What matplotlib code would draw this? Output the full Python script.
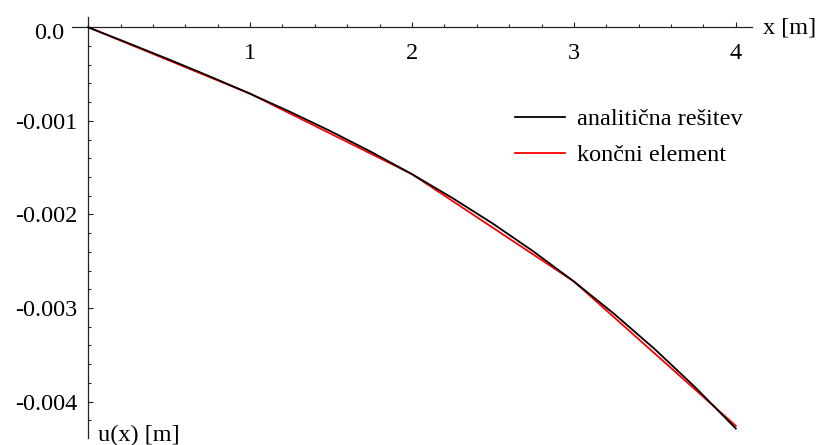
import matplotlib
matplotlib.use("Agg")
import matplotlib.pyplot as plt
from matplotlib.ticker import MultipleLocator, FixedLocator
from matplotlib.transforms import ScaledTranslation

# analytic solution
x_exact = [0.0, 0.25, 0.5, 0.75, 1.0, 1.25, 1.5, 1.75, 2.0,
           2.25, 2.5, 2.75, 3.0, 3.25, 3.5, 3.75, 4.0]
u_exact = [0.0, -0.000171, -0.000345, -0.000524, -0.000710, -0.000906,
           -0.001113, -0.001334, -0.001570, -0.001825, -0.002099,
           -0.002396, -0.002717, -0.003065, -0.003441, -0.003849, -0.004289]

# finite element nodes
x_fe = [0, 1, 2, 3, 4]
u_fe = [0.0, -0.000710, -0.001570, -0.002717, -0.004260]

y_ticks = [0.0, -0.001, -0.002, -0.003, -0.004]
y_labels = ["0.0", "-0.001", "-0.002", "-0.003", "-0.004"]
x_ticks = [1, 2, 3, 4]

FS = 17.5
plt.rcParams['font.family'] = ['Liberation Serif', 'DejaVu Serif']
plt.rcParams['font.size'] = FS

fig = plt.figure(figsize=(8.22, 4.45), dpi=100)
ax = fig.add_axes([72/822, 7/445, 680/822, 421/445])

ax.plot(x_exact, u_exact, color='black', lw=1.3, label='analitična rešitev', zorder=3)
ax.plot(x_fe, u_fe, color='red', lw=1.3, label='končni element', zorder=2)

ax.set_xlim(-0.1, 4.1)
ax.set_ylim(-0.00439, 0.00011)

# axes through the origin, Maple style
ax.spines['left'].set_position(('data', 0))
ax.spines['bottom'].set_position(('data', 0))
ax.spines['top'].set_visible(False)
ax.spines['right'].set_visible(False)
for s in ('left', 'bottom'):
    ax.spines[s].set_linewidth(0.9)
    ax.spines[s].set_color('#222222')

ax.xaxis.set_major_locator(FixedLocator(x_ticks))
ax.xaxis.set_minor_locator(MultipleLocator(0.2))
ax.yaxis.set_major_locator(FixedLocator(y_ticks))
ax.set_yticklabels(y_labels)
ax.yaxis.set_minor_locator(MultipleLocator(0.0002))

ax.tick_params(axis='x', which='both', direction='in', pad=11.5, labelsize=FS)
ax.tick_params(axis='y', which='both', direction='in', pad=8, labelsize=FS)
ax.tick_params(which='major', length=3.5, width=0.8, color='#222222')
ax.tick_params(which='minor', length=2.5, width=0.8, color='#222222')

# the 0.0 label sits left of where the x axis starts
lab0 = ax.get_yticklabels()[0]
lab0.set_transform(lab0.get_transform() + ScaledTranslation(-0.13, -0.04, fig.dpi_scale_trans))

ax.text(763, 445 - 28, "x [m]", transform=None, fontsize=FS, va='center', ha='left')
ax.text(98, 445 - 425, "u(x) [m]", transform=None, fontsize=FS, va='top', ha='left')

ax.legend(loc='upper left', bbox_to_anchor=(0.651, 0.783), frameon=False,
          borderpad=0, borderaxespad=0, handlelength=2.06, handletextpad=0.5,
          labelspacing=0.57, fontsize=FS)

fig.savefig("out.png", dpi=100)
